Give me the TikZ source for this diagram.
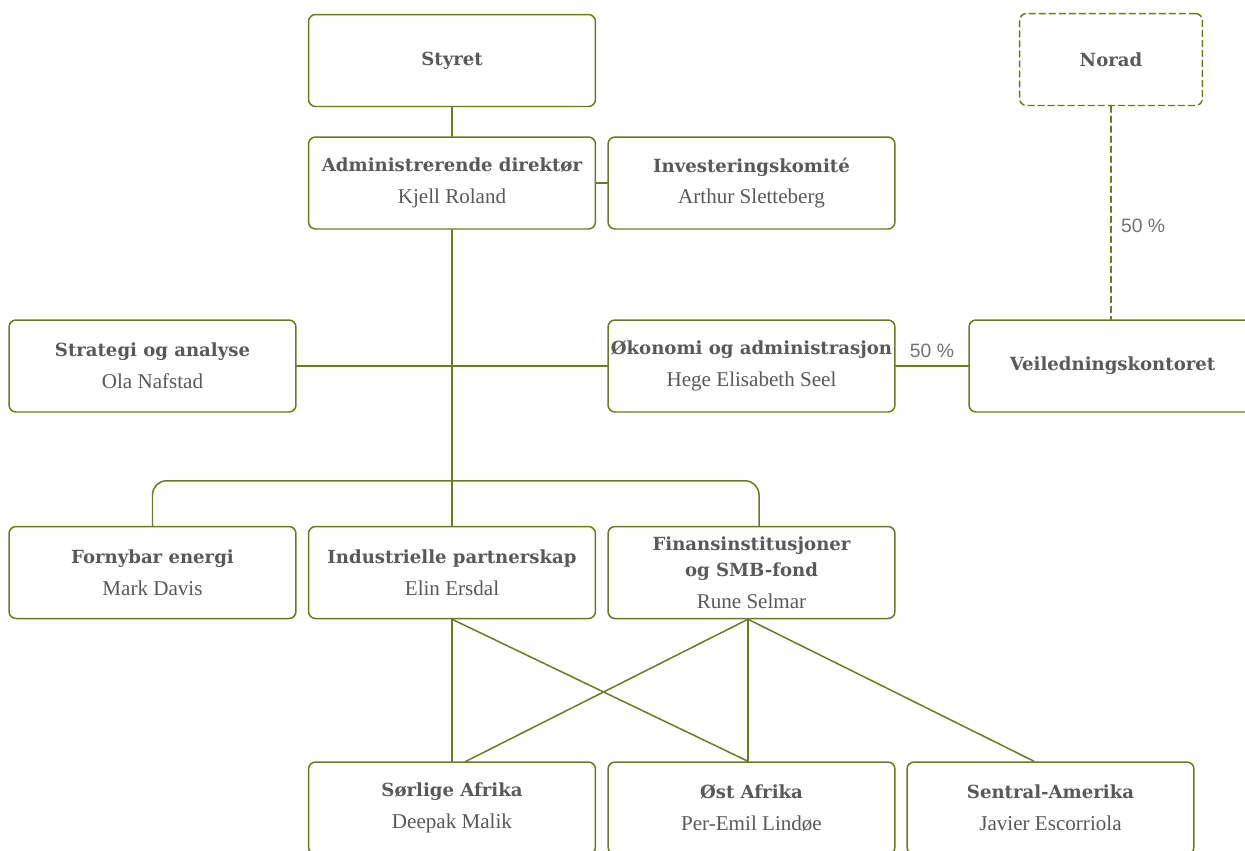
\documentclass[tikz,border=0pt]{standalone}
\usepackage{fontspec}
\setmainfont{Liberation Serif}
\newfontfamily\slabfont{DejaVu Serif}
\newfontfamily\pctfont{Liberation Sans}
\definecolor{lineolive}{HTML}{6B7A1F}
\definecolor{textgrey}{HTML}{58595B}
\newcommand{\hd}[1]{{\slabfont\bfseries\fontsize{10.3}{18}\selectfont #1}}
\begin{document}
\begin{tikzpicture}[x=0.02cm,y=-0.02cm, line join=round, line cap=round,
	unit/.style={draw=lineolive, line width=0.85pt, rounded corners=4pt, fill=white,
		minimum width=5.74cm, minimum height=1.84cm, inner sep=0pt, align=center,
		text=textgrey, font=\fontsize{12}{18}\selectfont},
	link/.style={draw=lineolive, line width=0.85pt},
	pct/.style={text=textgrey!85, font=\pctfont\fontsize{11}{13}\selectfont}]
	\clip (0,0) rectangle (1245,850);
	% top
	\node[unit] (styret) at (452,60.5) {\hd{Styret}};
	\node[unit] (adm) at (452,183) {\hd{Administrerende direktør}\\Kjell Roland};
	\node[unit] (inv) at (751.5,183) {\hd{Investeringskomité}\\Arthur Sletteberg};
	\node[unit, dash pattern=on 3.4pt off 2.3pt, minimum width=3.66cm] (norad) at (1111,59.5) {\hd{Norad}};
	% staff
	\node[unit] (strat) at (152.5,366) {\hd{Strategi og analyse}\\Ola Nafstad};
	\node[unit] (okon) at (751.5,366) {\hd{Økonomi og administrasjon}\\Hege Elisabeth Seel};
	\node[unit] (veil) at (1112.5,366) {\hd{Veiledningskontoret}};
	% departments
	\node[unit] (forny) at (152.5,572.5) {\hd{Fornybar energi}\\Mark Davis};
	\node[unit] (indu) at (452,572.5) {\hd{Industrielle partnerskap}\\Elin Ersdal};
	\node[unit] (fin) at (751.5,572.5) {\hd{Finansinstitusjoner}\\[-3pt]\hd{og SMB-fond}\\Rune Selmar};
	% regions
	\node[unit] (sor) at (452,808) {\hd{Sørlige Afrika}\\Deepak Malik};
	\node[unit] (ost) at (751.5,808) {\hd{Øst Afrika}\\Per-Emil Lindøe};
	\node[unit] (sentral) at (1050.5,808) {\hd{Sentral-Amerika}\\Javier Escorriola};

	\draw[link] (styret) -- (adm);
	\draw[link] (adm) -- (inv);
	\draw[link] (adm) -- (indu);
	\draw[link] (strat) -- (okon);
	\draw[link] (okon) -- node[pct, above=1pt]{50 \%} (veil);
	\draw[link, dash pattern=on 3.4pt off 2.3pt] (norad) -- node[pct, pos=0.56, right=2pt]{50 \%} (norad |- veil.north);
	\draw[link, rounded corners=8pt] (forny.north) -- ++(0,-45) -| ([xshift=0.15cm]fin.north);
	% Fin/Indu to regions
	\coordinate (finb) at ([xshift=-0.07cm]fin.south);
	\draw[link] (indu.south) -- (sor.north);
	\draw[link] (indu.south) -- ([xshift=-0.07cm]ost.north);
	\draw[link] (finb) -- ([xshift=0.28cm]sor.north);
	\draw[link] (finb) -- ([xshift=-0.07cm]ost.north);
	\draw[link] (finb) -- ([xshift=-0.33cm]sentral.north);
\end{tikzpicture}
\end{document}
